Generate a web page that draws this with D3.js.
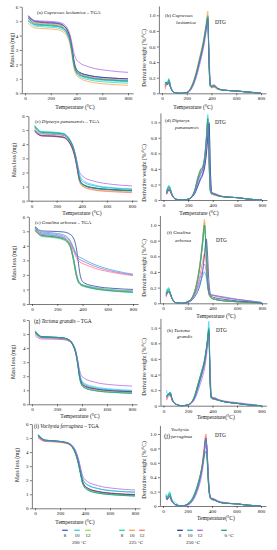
<!DOCTYPE html>
<html><head><meta charset="utf-8">
<script src="https://cdn.jsdelivr.net/npm/d3@7"></script>
<style>body{margin:0;background:#fff} text{font-family:"Liberation Serif","DejaVu Serif",serif;fill:#111}</style>
</head><body><svg id="c" width="277" height="550"></svg>
<script>
// Series order: 200°C 8,10,12 | 225°C 8,10,12 | 250°C 8,10,12 | 0°C
const seriesGroups = ["200 °C","225 °C","250 °C"];
const seriesLabels = ["8","10","12","8","10","12","8","10","12","0 °C"];
const xTicks = [0,200,400,600,800];
const tgaTicks = [0,1,2,3,4,5,6];
const dtgTicks = [0,0.2,0.4,0.6,0.8,1.0];
const TGA_T = [25,50,80,150,250,300,330,350,365,380,395,420,500,650,800];
const DTG_T = [25,35,45,55,70,100,150,200,250,280,300,320,335,350,360,370,380,390,400,420,450,500,600,700,800];

const tgaCupressus = [
[5.35,5.15,5.00,4.95,4.88,4.70,4.35,3.85,3.10,2.20,1.70,1.45,1.22,1.07,1.00],
[5.10,4.90,4.75,4.70,4.63,4.45,4.10,3.60,2.85,1.95,1.50,1.25,1.02,0.87,0.80],
[5.20,5.00,4.85,4.80,4.73,4.55,4.20,3.70,2.95,2.05,1.60,1.35,1.12,0.97,0.90],
[5.00,4.80,4.65,4.60,4.53,4.35,4.00,3.50,2.75,1.90,1.45,1.18,0.93,0.77,0.70],
[4.85,4.65,4.52,4.48,4.41,4.22,3.88,3.38,2.60,1.78,1.35,1.08,0.80,0.63,0.55],
[5.25,5.05,4.90,4.85,4.78,4.60,4.25,3.75,3.00,2.12,1.65,1.40,1.15,0.98,0.90],
[5.30,5.12,4.96,4.90,4.84,4.68,4.36,3.90,3.20,2.30,1.75,1.48,1.24,1.07,1.00],
[5.05,4.87,4.74,4.70,4.63,4.46,4.12,3.63,2.90,2.00,1.55,1.30,1.07,0.92,0.85],
[5.40,5.18,5.04,5.00,4.94,4.80,4.50,4.05,3.45,2.80,2.40,2.15,1.82,1.57,1.45],
[5.20,4.98,4.80,4.75,4.68,4.50,4.15,3.65,2.90,2.02,1.60,1.33,1.08,0.92,0.85]];

const tgaDipteryx = [
[5.00,4.78,4.62,4.60,4.52,4.15,3.60,2.95,2.25,1.55,1.25,1.08,0.90,0.78,0.72],
[5.30,5.05,4.88,4.85,4.76,4.40,3.88,3.25,2.60,1.95,1.60,1.38,1.12,0.92,0.85],
[5.15,4.92,4.76,4.73,4.65,4.28,3.72,3.05,2.35,1.62,1.30,1.12,0.92,0.79,0.73],
[5.35,5.08,4.90,4.87,4.78,4.40,3.85,3.15,2.40,1.62,1.28,1.10,0.90,0.77,0.70],
[4.95,4.75,4.62,4.60,4.52,4.14,3.58,2.90,2.18,1.45,1.15,0.98,0.80,0.68,0.62],
[4.90,4.70,4.58,4.55,4.47,4.10,3.55,2.88,2.15,1.42,1.12,0.95,0.75,0.63,0.57],
[4.92,4.72,4.60,4.58,4.50,4.15,3.62,2.98,2.28,1.58,1.28,1.10,0.90,0.78,0.72],
[5.20,4.98,4.82,4.80,4.72,4.36,3.82,3.18,2.50,1.80,1.48,1.28,1.05,0.88,0.80],
[5.05,4.85,4.72,4.70,4.63,4.30,3.82,3.25,2.65,2.08,1.85,1.65,1.38,1.15,1.05],
[5.25,5.00,4.84,4.81,4.73,4.35,3.78,3.08,2.35,1.58,1.25,1.08,0.88,0.76,0.70]];

const tgaGmelina = [
[5.20,4.95,4.78,4.72,4.55,4.10,3.10,2.15,1.65,1.42,1.33,1.25,1.10,0.95,0.88],
[5.25,5.00,4.82,4.76,4.58,4.12,3.12,2.18,1.68,1.45,1.35,1.28,1.13,0.97,0.90],
[5.10,4.85,4.68,4.62,4.45,4.00,2.95,2.00,1.55,1.36,1.28,1.20,1.05,0.90,0.82],
[5.05,4.80,4.63,4.58,4.40,3.95,2.90,1.95,1.52,1.34,1.25,1.18,1.02,0.87,0.78],
[5.15,4.90,4.72,4.66,4.48,4.02,2.95,1.98,1.55,1.38,1.30,1.22,1.07,0.93,0.85],
[5.00,4.82,4.70,4.65,4.50,4.20,3.62,3.20,3.00,2.88,2.80,2.72,2.45,2.15,1.95],
[5.30,5.10,5.02,5.00,4.95,4.80,4.50,3.90,3.00,2.05,1.62,1.42,1.22,1.07,1.00],
[5.35,5.12,4.95,4.90,4.75,4.40,3.85,3.45,3.28,3.20,3.15,3.02,2.70,2.30,2.05],
[5.20,5.00,4.88,4.83,4.66,4.32,3.75,3.35,3.15,3.05,2.98,2.88,2.58,2.22,2.00],
[5.10,4.86,4.70,4.64,4.47,4.02,2.98,2.03,1.58,1.38,1.30,1.22,1.05,0.90,0.82]];

const tgaTectona = [
[5.10,4.90,4.78,4.75,4.70,4.55,4.20,3.70,3.00,2.05,1.55,1.30,1.10,0.96,0.90],
[5.05,4.85,4.74,4.72,4.67,4.55,4.25,3.80,3.15,2.25,1.75,1.50,1.25,1.08,1.00],
[5.20,4.95,4.80,4.78,4.72,4.55,4.18,3.65,2.90,1.95,1.45,1.20,1.00,0.86,0.80],
[5.25,4.98,4.82,4.80,4.73,4.55,4.15,3.60,2.85,1.90,1.40,1.17,0.97,0.84,0.78],
[5.00,4.82,4.72,4.70,4.64,4.48,4.12,3.62,2.92,2.00,1.50,1.25,1.05,0.92,0.85],
[5.05,4.86,4.75,4.73,4.67,4.50,4.14,3.64,2.95,2.02,1.52,1.28,1.07,0.93,0.86],
[5.15,4.93,4.80,4.78,4.72,4.56,4.20,3.70,3.00,2.08,1.58,1.32,1.12,0.97,0.90],
[5.10,4.90,4.78,4.76,4.71,4.57,4.25,3.78,3.10,2.18,1.68,1.42,1.18,1.02,0.95],
[4.90,4.72,4.65,4.64,4.60,4.48,4.18,3.75,3.15,2.45,2.05,1.85,1.58,1.38,1.30],
[5.20,4.95,4.80,4.78,4.72,4.55,4.16,3.62,2.88,1.92,1.42,1.18,0.98,0.85,0.79]];

const tgaVochysia = [
[5.15,4.95,4.82,4.78,4.66,4.35,3.80,3.15,2.50,1.90,1.62,1.42,1.18,1.02,0.95],
[5.20,5.00,4.85,4.80,4.70,4.42,3.92,3.30,2.72,2.15,1.85,1.65,1.40,1.22,1.15],
[5.10,4.90,4.78,4.75,4.63,4.30,3.72,3.05,2.40,1.80,1.52,1.32,1.10,0.95,0.88],
[5.25,5.00,4.85,4.80,4.66,4.32,3.72,3.03,2.38,1.78,1.50,1.30,1.08,0.94,0.87],
[5.05,4.88,4.78,4.75,4.64,4.33,3.78,3.12,2.48,1.88,1.60,1.40,1.17,1.02,0.95],
[5.00,4.85,4.76,4.73,4.62,4.33,3.80,3.15,2.52,1.92,1.65,1.45,1.22,1.06,1.00],
[5.20,4.98,4.84,4.80,4.68,4.38,3.84,3.18,2.52,1.92,1.64,1.44,1.20,1.04,0.97],
[5.15,4.95,4.82,4.78,4.68,4.42,3.92,3.32,2.72,2.15,1.88,1.68,1.42,1.22,1.15],
[5.10,4.92,4.80,4.77,4.68,4.45,4.00,3.45,2.88,2.35,2.10,1.90,1.62,1.40,1.30],
[5.25,5.02,4.86,4.81,4.67,4.32,3.73,3.04,2.40,1.80,1.52,1.32,1.09,0.95,0.88]];

const dtgCupressus = [
[.12,.14,.11,.14,.07,.01,.00,.01,.11,.26,.39,.52,.63,.77,.87,.97,.42,.10,.08,.09,.06,.04,.03,.015,.00],
[.15,.13,.12,.18,.09,.01,.00,.01,.12,.27,.40,.54,.65,.79,.89,.99,.38,.10,.08,.09,.06,.04,.03,.02,.00],
[.08,.12,.13,.17,.08,.01,.00,.01,.13,.28,.42,.55,.66,.80,.90,1.00,.36,.09,.08,.08,.06,.04,.03,.015,.00],
[.10,.14,.14,.19,.09,.01,.00,.01,.13,.28,.41,.55,.66,.80,.90,1.00,.35,.09,.08,.08,.05,.04,.03,.015,.00],
[.05,.10,.12,.16,.08,.01,.00,.01,.14,.30,.44,.57,.69,.83,.94,1.05,.38,.09,.07,.08,.05,.04,.03,.015,.00],
[.07,.11,.12,.15,.07,.01,.00,.01,.12,.27,.40,.53,.64,.78,.88,.98,.42,.10,.08,.09,.06,.04,.03,.015,.00],
[.13,.14,.11,.13,.07,.01,.00,.01,.11,.25,.38,.51,.62,.76,.86,.95,.45,.11,.09,.10,.06,.04,.03,.015,.00],
[.12,.13,.12,.16,.08,.01,.00,.01,.12,.27,.40,.53,.64,.78,.88,.96,.44,.11,.09,.10,.06,.04,.03,.015,.00],
[.09,.12,.12,.14,.07,.01,.00,.00,.09,.22,.34,.47,.58,.72,.82,.92,.55,.14,.10,.11,.07,.04,.03,.015,.00],
[.11,.13,.13,.17,.08,.01,.00,.01,.12,.27,.40,.54,.65,.79,.89,.98,.37,.10,.08,.09,.06,.04,.03,.015,.00]];

const dtgDipteryx = [
[.08,.12,.14,.12,.06,.01,.00,.01,.08,.20,.28,.35,.45,.65,.85,1.00,.40,.10,.08,.07,.05,.04,.03,.01,.00],
[.12,.16,.19,.15,.07,.01,.00,.01,.10,.28,.37,.43,.56,.85,1.10,.55,.13,.08,.08,.07,.05,.04,.03,.01,.00],
[.10,.15,.18,.14,.07,.01,.00,.01,.11,.30,.39,.44,.57,.84,1.05,.50,.12,.08,.08,.07,.05,.04,.03,.01,.00],
[.11,.16,.18,.14,.07,.01,.00,.01,.11,.30,.39,.44,.57,.84,1.04,.48,.12,.08,.08,.07,.05,.04,.03,.01,.00],
[.08,.12,.14,.12,.06,.01,.00,.01,.10,.28,.36,.42,.55,.82,1.02,.50,.12,.08,.07,.06,.05,.04,.03,.01,.00],
[.07,.11,.13,.11,.06,.01,.00,.01,.10,.27,.35,.41,.54,.80,1.00,.52,.13,.08,.07,.06,.05,.04,.03,.01,.00],
[.08,.11,.13,.11,.06,.01,.00,.01,.07,.18,.26,.33,.43,.62,.82,.98,.42,.11,.09,.08,.06,.04,.03,.01,.00],
[.10,.14,.16,.13,.07,.01,.00,.01,.09,.24,.33,.40,.52,.78,1.00,.70,.18,.09,.08,.07,.05,.04,.03,.01,.00],
[.09,.13,.15,.13,.06,.01,.00,.01,.09,.25,.33,.39,.50,.74,.95,.72,.20,.10,.09,.08,.06,.04,.03,.01,.00],
[.11,.15,.17,.14,.07,.01,.00,.01,.11,.29,.38,.43,.56,.83,1.05,.50,.12,.08,.08,.07,.05,.04,.03,.01,.00]];

const dtgGmelina = [
[.12,.15,.16,.14,.07,.01,.00,.02,.12,.30,.50,.78,1.00,.62,.28,.13,.09,.07,.06,.05,.04,.03,.02,.01,.00],
[.18,.16,.19,.15,.08,.01,.00,.02,.12,.30,.49,.76,.98,.62,.28,.13,.09,.07,.06,.05,.04,.03,.02,.01,.00],
[.10,.14,.17,.15,.07,.01,.00,.02,.13,.32,.52,.80,1.03,.63,.28,.13,.09,.07,.06,.05,.04,.03,.02,.01,.00],
[.14,.18,.20,.16,.08,.01,.00,.02,.12,.30,.48,.74,.95,.66,.30,.14,.09,.07,.06,.05,.04,.03,.02,.01,.00],
[.10,.13,.15,.14,.07,.01,.00,.02,.13,.33,.54,.83,1.07,.62,.27,.12,.08,.07,.06,.05,.04,.03,.02,.01,.00],
[.08,.12,.14,.13,.07,.01,.00,.02,.10,.24,.37,.53,.63,.48,.27,.16,.12,.10,.10,.09,.08,.07,.05,.03,.01],
[.11,.14,.15,.13,.07,.01,.00,.01,.07,.15,.24,.40,.62,.82,.62,.30,.14,.09,.08,.07,.06,.05,.03,.02,.00],
[.10,.14,.15,.13,.07,.01,.00,.02,.09,.19,.27,.35,.40,.33,.22,.15,.12,.11,.11,.10,.09,.08,.05,.03,.01],
[.09,.13,.14,.13,.07,.01,.00,.02,.10,.22,.32,.43,.50,.40,.25,.16,.12,.11,.10,.10,.09,.07,.05,.03,.01],
[.13,.16,.18,.15,.08,.01,.00,.02,.12,.31,.50,.78,1.00,.64,.29,.13,.09,.07,.06,.05,.04,.03,.02,.01,.00]];

const dtgTectona = [
[.12,.14,.15,.15,.08,.02,.00,.01,.10,.25,.36,.47,.57,.72,.84,.97,.35,.10,.09,.09,.07,.05,.03,.01,.00],
[.20,.14,.16,.17,.09,.02,.00,.01,.09,.23,.34,.45,.55,.72,.86,1.08,.40,.10,.09,.09,.07,.05,.03,.01,.00],
[.10,.13,.15,.16,.08,.02,.00,.01,.11,.27,.38,.49,.59,.74,.86,.98,.32,.10,.09,.08,.07,.05,.03,.01,.00],
[.11,.14,.16,.17,.09,.02,.00,.01,.11,.27,.38,.49,.59,.74,.86,.97,.32,.10,.09,.08,.07,.05,.03,.01,.00],
[.08,.12,.14,.15,.08,.02,.00,.01,.10,.26,.37,.48,.58,.73,.85,.96,.33,.10,.09,.08,.07,.05,.03,.01,.00],
[.07,.11,.13,.14,.07,.02,.00,.01,.10,.25,.36,.47,.57,.72,.84,.95,.34,.10,.09,.09,.07,.05,.03,.01,.00],
[.12,.14,.15,.15,.08,.02,.00,.01,.09,.23,.34,.45,.55,.70,.83,.95,.38,.11,.10,.09,.07,.05,.03,.01,.00],
[.13,.14,.15,.16,.08,.02,.00,.01,.09,.22,.33,.44,.54,.70,.84,1.00,.42,.11,.10,.10,.07,.05,.03,.01,.00],
[.09,.12,.13,.13,.07,.02,.00,.01,.07,.18,.28,.38,.48,.63,.77,.90,.55,.14,.11,.10,.08,.06,.04,.02,.00],
[.11,.14,.16,.17,.09,.02,.00,.01,.11,.27,.38,.49,.59,.74,.86,.98,.32,.10,.09,.08,.07,.05,.03,.01,.00]];

const dtgVochysia = [
[.12,.10,.13,.14,.08,.02,.00,.02,.12,.25,.38,.55,.74,.93,.72,.36,.16,.10,.10,.09,.06,.04,.03,.01,.00],
[.17,.12,.17,.20,.10,.05,.00,.02,.12,.25,.38,.55,.74,.92,.72,.37,.16,.10,.10,.09,.06,.04,.03,.01,.00],
[.13,.10,.15,.16,.09,.02,.00,.03,.14,.28,.40,.57,.76,.90,.68,.33,.15,.10,.09,.08,.06,.04,.03,.01,.00],
[.15,.11,.16,.18,.09,.02,.00,.03,.14,.28,.40,.56,.74,.88,.66,.32,.15,.10,.09,.08,.06,.04,.03,.01,.00],
[.10,.09,.13,.14,.08,.02,.00,.02,.12,.26,.39,.57,.78,.97,.72,.35,.15,.10,.09,.08,.06,.04,.03,.01,.00],
[.09,.09,.12,.13,.07,.02,.00,.02,.12,.26,.39,.58,.80,1.00,.74,.36,.15,.10,.09,.08,.06,.04,.03,.01,.00],
[.11,.09,.12,.13,.07,.02,.00,.02,.11,.24,.36,.53,.72,.94,.75,.40,.17,.11,.10,.09,.06,.04,.03,.01,.00],
[.13,.10,.14,.15,.08,.02,.00,.02,.11,.24,.36,.53,.72,.93,.76,.40,.17,.11,.10,.09,.06,.04,.03,.01,.00],
[.10,.09,.12,.13,.07,.02,.00,.01,.09,.20,.31,.47,.66,.88,.78,.45,.20,.12,.11,.10,.07,.05,.03,.01,.00],
[.14,.11,.15,.17,.09,.02,.00,.03,.14,.28,.40,.55,.68,.76,.64,.34,.16,.10,.09,.08,.06,.04,.03,.01,.00]];

const colors = ["#3b5ede","#2fd3f2","#8fe63c","#20d8ad","#ff9c45","#ff7373","#2b3796","#2ba8da","#b262e3","#1f9f82"];

const svg = d3.select("#c");

function drawPanel(cfg) {
  const x = d3.scaleLinear().domain([0,800]).range([cfg.x0,cfg.x800]);
  const xa = d3.scaleLinear().domain([-25,840]).range([x(-25),x(840)]);
  const y = d3.scaleLinear().domain([0,cfg.vRef]).range([cfg.yb,cfg.yRef]);
  const ya = d3.scaleLinear().domain([0,cfg.vTop]).range([y(0),y(cfg.vTop)]);
  const g = svg.append("g");
  const gx = g.append("g").attr("transform",`translate(0,${y(0)})`)
    .call(d3.axisBottom(xa).tickValues(xTicks).tickSize(2).tickSizeOuter(0).tickPadding(1.5).tickFormat(d3.format("d")));
  const gy = g.append("g").attr("transform",`translate(${xa(-25)},0)`)
    .call(d3.axisLeft(ya).tickValues(cfg.ticks).tickSize(2).tickSizeOuter(0).tickPadding(1.5).tickFormat(cfg.fmt));
  [gx,gy].forEach(a=>{
    a.selectAll(".domain").attr("stroke","#222").attr("stroke-width",0.6);
    a.selectAll(".tick line").attr("stroke","#222").attr("stroke-width",0.6);
    a.selectAll(".tick text").attr("font-size",5).attr("font-family","Liberation Serif").attr("fill","#111");
  });
  const line = d3.line().x((d,i)=>x(cfg.T[i])).y(d=>y(d)).curve(d3.curveMonotoneX);
  g.append("g").selectAll("path").data(cfg.data).join("path")
    .attr("d",line).attr("fill","none").attr("stroke",(d,i)=>colors[i]).attr("stroke-width",0.75);
  // axis titles
  if (cfg.xl) g.append("text").attr("x",cfg.xl[0]).attr("y",cfg.xl[1]).attr("dy","0.35em")
      .attr("text-anchor","middle").attr("font-size",5.6).text(cfg.xlText || "Temperature (°C)");
  g.append("text").attr("transform",`translate(${cfg.yl[0]},${cfg.yl[1]}) rotate(-90)`).attr("dy","0.35em")
    .attr("text-anchor","middle").attr("font-size",5.6).text(cfg.ylText);
}

function title(x, y, pre, sp, post, fs) {
  const t = svg.append("text").attr("x",x).attr("y",y).attr("dy","0.35em").attr("font-size",fs||5);
  t.append("tspan").text(pre);
  t.append("tspan").attr("font-style","italic").text(sp);
  if (post) t.append("tspan").text(post);
}
function txt(x,y,s,opts) {
  opts = opts||{};
  svg.append("text").attr("x",x).attr("y",y).attr("dy","0.35em").attr("font-size",opts.fs||5)
    .attr("font-style",opts.it?"italic":null).attr("text-anchor",opts.anchor||"start").text(s);
}

const fmtTGA = d3.format("d");
const fmtDTG = d => d===0 ? "0" : d3.format(".1f")(d);
const massLabel = "Mass loss (mg)";
const derivLabel = "Derivative weight (%/°C)";

// Left TGA panels
drawPanel({x0:25,x800:128,yb:93.3,yRef:6.7,vRef:6,vTop:6,ticks:tgaTicks,fmt:fmtTGA,T:TGA_T,data:tgaCupressus,xl:[75,107],yl:[12,50],ylText:massLabel});
drawPanel({x0:31.5,x800:132,yb:200.7,yRef:116,vRef:6,vTop:6,ticks:tgaTicks,fmt:fmtTGA,T:TGA_T,data:tgaDipteryx,xl:[82,213],yl:[14,160],ylText:massLabel});
drawPanel({x0:32,x800:133,yb:304,yRef:216.7,vRef:6,vTop:6,ticks:tgaTicks,fmt:fmtTGA,T:TGA_T,data:tgaGmelina,xl:null,yl:[14,263],ylText:massLabel});
drawPanel({x0:32,x800:132,yb:404.3,yRef:320,vRef:6,vTop:6,ticks:tgaTicks,fmt:fmtTGA,T:TGA_T,data:tgaTectona,xl:[80,416],yl:[13,362],ylText:massLabel});
drawPanel({x0:35,x800:135,yb:508.3,yRef:424,vRef:6,vTop:6,ticks:tgaTicks,fmt:fmtTGA,T:TGA_T,data:tgaVochysia,xl:[75,522],yl:[17,465],ylText:massLabel});

// Right DTG panels
drawPanel({x0:162,x800:261,yb:93.3,yRef:15.3,vRef:1,vTop:1.12,ticks:dtgTicks,fmt:fmtDTG,T:DTG_T,data:dtgCupressus,xl:[193,107],yl:[144,58],ylText:derivLabel});
drawPanel({x0:163.5,x800:262,yb:200,yRef:122.3,vRef:1,vTop:1.12,ticks:dtgTicks,fmt:fmtDTG,T:DTG_T,data:dtgDipteryx,xl:[199,213],yl:[144,173],ylText:derivLabel});
drawPanel({x0:163,x800:262,yb:303.3,yRef:225,vRef:1,vTop:1.12,ticks:dtgTicks,fmt:fmtDTG,T:DTG_T,data:dtgGmelina,xl:[216,316],yl:[144,268],ylText:derivLabel});
drawPanel({x0:163.5,x800:261.5,yb:405.7,yRef:327.7,vRef:1,vTop:1.12,ticks:dtgTicks,fmt:fmtDTG,T:DTG_T,data:dtgTectona,xl:[216,417],xlText:"Temperature(°C)",yl:[144,367],ylText:derivLabel});
drawPanel({x0:163,x800:261,yb:506,yRef:434,vRef:1,vTop:1.12,ticks:dtgTicks,fmt:fmtDTG,T:DTG_T,data:dtgVochysia,xl:[216,518],xlText:"Temperature(°C)",yl:[144,470],ylText:derivLabel});

// Titles
title(37,12,"(a) ","Cupressus lusitanica"," – TGA");
title(35,121,"(c) ","Dipteryx panamensis"," – TGA");
title(35,222,"(e) ","Gmelina arborea"," – TGA");
title(34,321,"(g) ","Tectona grandis"," – TGA",5.3);
title(34,426,"(i) ","Vochysia ferruginea"," – TGA",5.3);

title(165,15,"(b) ","Cupressus","");
txt(176,22,"lusitanica",{it:true});
txt(215,22,"DTG",{fs:5.3});
title(165,120,"(d) ","Dipteryx","");
txt(175,127,"panamensis",{it:true});
txt(215,122,"DTG",{fs:5.3});
title(167,232,"(f) ","Gmelina","");
txt(175,240,"arborea",{it:true});
txt(216,240,"DTG",{fs:5.3});
title(167,330,"(h) ","Tectona","");
txt(177,336,"grandis",{it:true});
txt(216,330,"DTG",{fs:5.3});
txt(171,429,"Vochysia",{it:true});
txt(164,436,"(j)",{fs:6.5});
txt(171,436,"ferruginea",{it:true});
txt(215,435,"DTG",{fs:5.3});

// Legend
const legX = [65,77,88,122,132,142,180,190,200,224];
const legG = svg.append("g");
legG.selectAll("line").data(colors).join("line")
  .attr("x1",(d,i)=>legX[i]-2.8).attr("x2",(d,i)=>legX[i]+2.8)
  .attr("y1",530.3).attr("y2",530.3).attr("stroke",d=>d).attr("stroke-width",1.3);
legG.selectAll("text").data(seriesLabels).join("text")
  .attr("x",(d,i)=> i===9 ? legX[i]+5 : legX[i]).attr("y",535.5).attr("dy","0.35em")
  .attr("text-anchor","middle").attr("font-size",5).text(d=>d);
const grpX = [79,136,193];
seriesGroups.forEach((s,i)=>txt(grpX[i],542.5,s,{anchor:"middle"}));
</script></body></html>
